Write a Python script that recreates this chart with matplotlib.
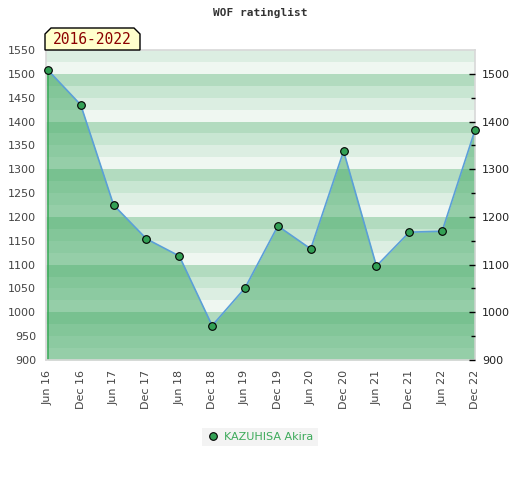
import matplotlib
matplotlib.use("Agg")
import matplotlib.pyplot as plt
from matplotlib.patches import Polygon
import numpy as np

# data
periods = ["Jun 16", "Dec 16", "Jun 17", "Dec 17", "Jun 18", "Dec 18", "Jun 19",
           "Dec 19", "Jun 20", "Dec 20", "Jun 21", "Dec 21", "Jun 22", "Dec 22"]
rating = [1508, 1435, 1225, 1154, 1118, 972, 1051,
          1181, 1133, 1338, 1097, 1168, 1170, 1382]
player = "KAZUHISA Akira"
span_label = "2016-2022"
title = "WOF ratinglist"

ymin, ymax = 900, 1550
band_colors = ["#eff7f1", "#dceee2", "#c8e6d2", "#b2dbbf"]

fig = plt.figure(figsize=(5.2, 4.8), dpi=100)
ax = fig.add_axes([46 / 520, 1 - 360 / 480, 429 / 520, 310 / 480])

x = np.arange(len(periods))

# striped background, 25 points per band
for i, lo in enumerate(range(ymin, ymax, 25)):
    ax.axhspan(lo, lo + 25, color=band_colors[i % 4], lw=0, zorder=0)

ax.fill_between(x, ymin, rating, color="#44aa66", alpha=0.52, lw=0, zorder=1)
ax.vlines([x[0], x[-1]], ymin, [rating[0], rating[-1]], color="#3caa5a", lw=1.2, zorder=2)
ax.plot(x, rating, color="#5b9fd8", lw=1.2, zorder=3)
ax.plot(x, rating, ls="none", marker="o", ms=5.5, mfc="#33a055", mec="black", mew=0.8,
        zorder=4, label=player, clip_on=False)

ax.set_xlim(-0.057, 12.085)
ax.set_ylim(ymin, ymax)
ax.set_xticks(x)
ax.set_xticklabels(periods, rotation=90, fontsize=8, color="#444444")
ax.set_yticks(np.arange(ymin, ymax + 1, 50))
ax.tick_params(axis="both", length=0, labelsize=8, labelcolor="#444444")
ax.tick_params(axis="y", pad=7)
ax.tick_params(axis="x", pad=7)
for s in ax.spines.values():
    s.set_color("#d8d8d8")
    s.set_linewidth(1.2)

ax2 = ax.twinx()
ax2.set_ylim(ymin, ymax)
ax2.set_yticks(np.arange(900, 1501, 100))
ax2.set_yticks(np.arange(950, 1501, 100), minor=True)
ax2.tick_params(axis="y", which="major", direction="in", length=4, width=1,
                color="black", labelsize=8, labelcolor="#222222", pad=5)
ax2.tick_params(axis="y", which="minor", direction="in", length=3, width=1, color="black")
for s in ax2.spines.values():
    s.set_visible(False)

fig.text(0.5, 1 - 13 / 480, title, ha="center", va="center",
         family="DejaVu Sans Mono", weight="bold", fontsize=8, color="#333333")

# period label box with clipped top corners
l, b, t, r = 45, 50, 28, 140
c = 6
pts = [(l, b), (l, t + c), (l + c, t), (r - c, t), (r, t + c), (r, b)]
pts = [(px / 520, 1 - py / 480) for px, py in pts]
fig.patches.append(Polygon(pts, closed=True, transform=fig.transFigure,
                           facecolor="#ffffcc", edgecolor="black", lw=1, zorder=5))
fig.text((l + r) / 2 / 520, 1 - 40 / 480, span_label, ha="center", va="center",
         family="DejaVu Sans Mono", fontsize=10.5, color="#8b0000", zorder=6)

leg = fig.legend(loc="center", bbox_to_anchor=(0.5, 1 - 437 / 480), frameon=True,
                 fontsize=8, handletextpad=0.4, handlelength=1.2, borderpad=0.4,
                 fancybox=False)
leg.get_frame().set_facecolor("#f0f0f0")
leg.get_frame().set_edgecolor("none")
for txt in leg.get_texts():
    txt.set_color("#3caa5a")

fig.savefig("out.png", dpi=100)
